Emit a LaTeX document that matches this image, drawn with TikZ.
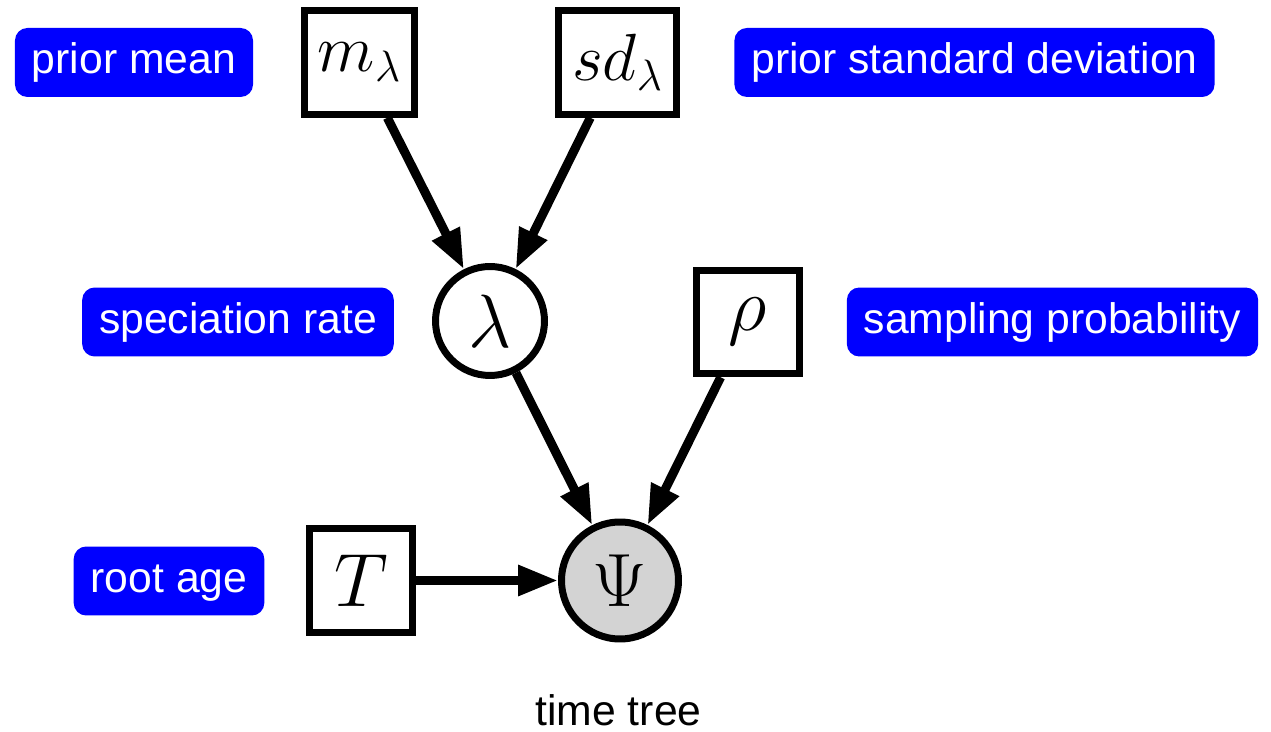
\RequirePackage{fix-cm}
\documentclass[tikz,border=0pt]{standalone}
\usepackage{fontspec}
\newfontfamily\labelfont{Liberation Sans}
\usetikzlibrary{arrows.meta}
\DeclareMathSizes{38}{38}{25}{18}
\DeclareMathSizes{43}{43}{30}{21.5}
\definecolor{lblblue}{RGB}{0,0,255}
\definecolor{obsgray}{RGB}{211,211,211}
\begin{document}
\begin{tikzpicture}[x=0.02cm,y=-0.02cm,
  lbl/.style={fill=lblblue,text=white,rounded corners=0.25cm,font=\labelfont\fontsize{24.3}{28}\selectfont,
    minimum height=1.38cm,inner xsep=0.34cm,inner ysep=0pt,text height=17.7pt,text depth=5.1pt},
  mathfont/.style={font=\fontsize{43}{50}\selectfont},
  submathfont/.style={font=\fontsize{38}{46}\selectfont},
  constbox/.style={draw,line width=0.14cm,rectangle,mathfont,inner sep=0pt,minimum height=2.07cm},
  stochnode/.style={draw,line width=0.14cm,circle,mathfont,inner sep=0pt},
  conn/.style={line width=0.18cm,-{Triangle[length=0.8cm,width=0.58cm]}}]
\useasboundingbox (0,0) rectangle (1271,732);
% labels
\node[lbl] (lmean) at (134,62.5) {prior mean};
\node[lbl] (lsd) at (974.5,62.5) {prior standard deviation};
\node[lbl] (lspec) at (238,322) {speciation rate};
\node[lbl] (lsamp) at (1052.5,322) {sampling probability};
\node[lbl] (lroot) at (169,581) {root age};
% model nodes
\node[constbox,submathfont,minimum width=2.2cm] (m) at (359.5,62.5) {$m_\lambda$};
\node[constbox,submathfont,minimum width=2.36cm] (sd) at (617.5,62.5) {$sd_\lambda$};
\node[stochnode,minimum size=2.18cm] (lam) at (490,321) {$\lambda$};
\node[constbox,minimum width=2.06cm] (rho) at (748,322) {$\rho$};
\node[constbox,minimum width=2.06cm] (T) at (361,580.5) {$T$};
\node[stochnode,minimum size=2.34cm,fill=obsgray] (psi) at (620,580.5) {$\Psi$};
\node[font=\labelfont\fontsize{24.3}{28}\selectfont,anchor=base,inner sep=0pt] (tt) at (618.5,725) {time tree};
% connectors
\draw[conn] (m) -- (lam);
\draw[conn] (sd) -- (lam);
\draw[conn] (lam) -- (psi);
\draw[conn] (rho) -- (psi);
\draw[conn] (T) -- (psi);
\end{tikzpicture}
\end{document}
